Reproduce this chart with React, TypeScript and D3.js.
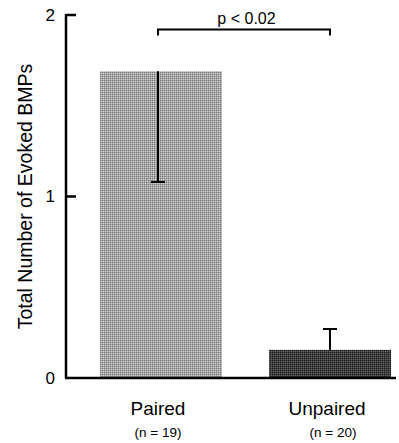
import React from 'react';
import * as d3 from 'd3';

const groups = ['Paired', 'Unpaired'];
const counts = ['(n = 19)', '(n = 20)'];
const means = [1.69, 0.155];
const errLow = [1.08, 0.155];
const errHigh = [1.69, 0.27];
const yTicks = [0, 1, 2];
const pLabel = 'p < 0.02';

const width = 399;
const height = 443;
const axisX = 66;
const axisRight = 396;

const App = () => {
    const yScale = d3.scaleLinear().domain([0, 2]).range([378, 15]);
    const xScale = d3.scaleBand<string>().domain(groups).range([axisX, 399])
        .paddingInner(0.278).paddingOuter(0.124).align(0.81);

    const cx = (g: string) => (xScale(g) as number) + xScale.bandwidth() / 2;
    const bracketY = yScale(1.92);
    const font = 'Liberation Sans, Arial, Helvetica, sans-serif';

    return (
        <svg width={width} height={height} style={{position: 'absolute', left: 0, top: 0}}>
            <defs>
                <pattern id="light" width={2} height={2} patternUnits="userSpaceOnUse">
                    <rect width={2} height={2} fill="#a6a6a6"/>
                    <rect width={1} height={1} fill="#7c7c7c"/>
                    <rect x={1} y={1} width={1} height={1} fill="#cfcfcf"/>
                </pattern>
                <pattern id="dark" width={2} height={2} patternUnits="userSpaceOnUse">
                    <rect width={2} height={2} fill="#3a3a3a"/>
                    <rect width={1} height={1} fill="#1e1e1e"/>
                    <rect x={1} y={1} width={1} height={1} fill="#6a6a6a"/>
                </pattern>
            </defs>

            {/* bars */}
            {groups.map((g, i) => (
                <rect key={g} x={xScale(g)} y={yScale(means[i])} width={xScale.bandwidth()}
                      height={yScale(0) - yScale(means[i])} fill={i === 0 ? 'url(#light)' : 'url(#dark)'}/>
            ))}

            {/* error bars */}
            {groups.map((g, i) => {
                const x = cx(g) - (i === 0 ? 3 : 0);
                const cap = i === 0 ? errLow[i] : errHigh[i];
                return (
                    <g key={g} stroke="#000" strokeWidth={2}>
                        <line x1={x} x2={x} y1={yScale(errLow[i])} y2={yScale(errHigh[i])}/>
                        <line x1={x - 7} x2={x + 7} y1={yScale(cap)} y2={yScale(cap)}/>
                    </g>
                );
            })}

            {/* axes */}
            <g stroke="#000" strokeWidth={2.5} fill="none">
                <line x1={axisX} x2={axisX} y1={yScale(2) - 1} y2={yScale(0)}/>
                <line x1={axisX - 1} x2={axisRight} y1={yScale(0)} y2={yScale(0)}/>
                {yTicks.filter(t => t > 0).map(t => (
                    <line key={t} x1={axisX} x2={axisX + 10} y1={yScale(t)} y2={yScale(t)}/>
                ))}
            </g>
            {yTicks.map(t => (
                <text key={t} x={55} y={yScale(t)} dy="0.35em" textAnchor="end"
                      fontFamily={font} fontSize={17}>{t}</text>
            ))}

            <text transform={`translate(32, ${(yScale(0) + yScale(2)) / 2}) rotate(-90)`}
                  textAnchor="middle" fontFamily={font} fontSize={19.5}>Total Number of Evoked BMPs</text>

            {/* significance bracket */}
            <path d={`M${cx(groups[0]) - 3},${bracketY + 6}V${bracketY}H${cx(groups[1])}V${bracketY + 6}`}
                  stroke="#000" strokeWidth={2} fill="none"/>
            <text x={(cx(groups[0]) + cx(groups[1])) / 2 + 1} y={bracketY - 6} textAnchor="middle"
                  fontFamily={font} fontSize={16}>{pLabel}</text>

            {/* category labels */}
            {groups.map((g, i) => (
                <g key={g} fontFamily={font} textAnchor="middle">
                    <text x={cx(g) - 3} y={415} fontSize={19}>{g}</text>
                    <text x={cx(g) + (i === 0 ? -3 : 3)} y={437} fontSize={13.5}>{counts[i]}</text>
                </g>
            ))}
        </svg>
    );
};

export default App;
